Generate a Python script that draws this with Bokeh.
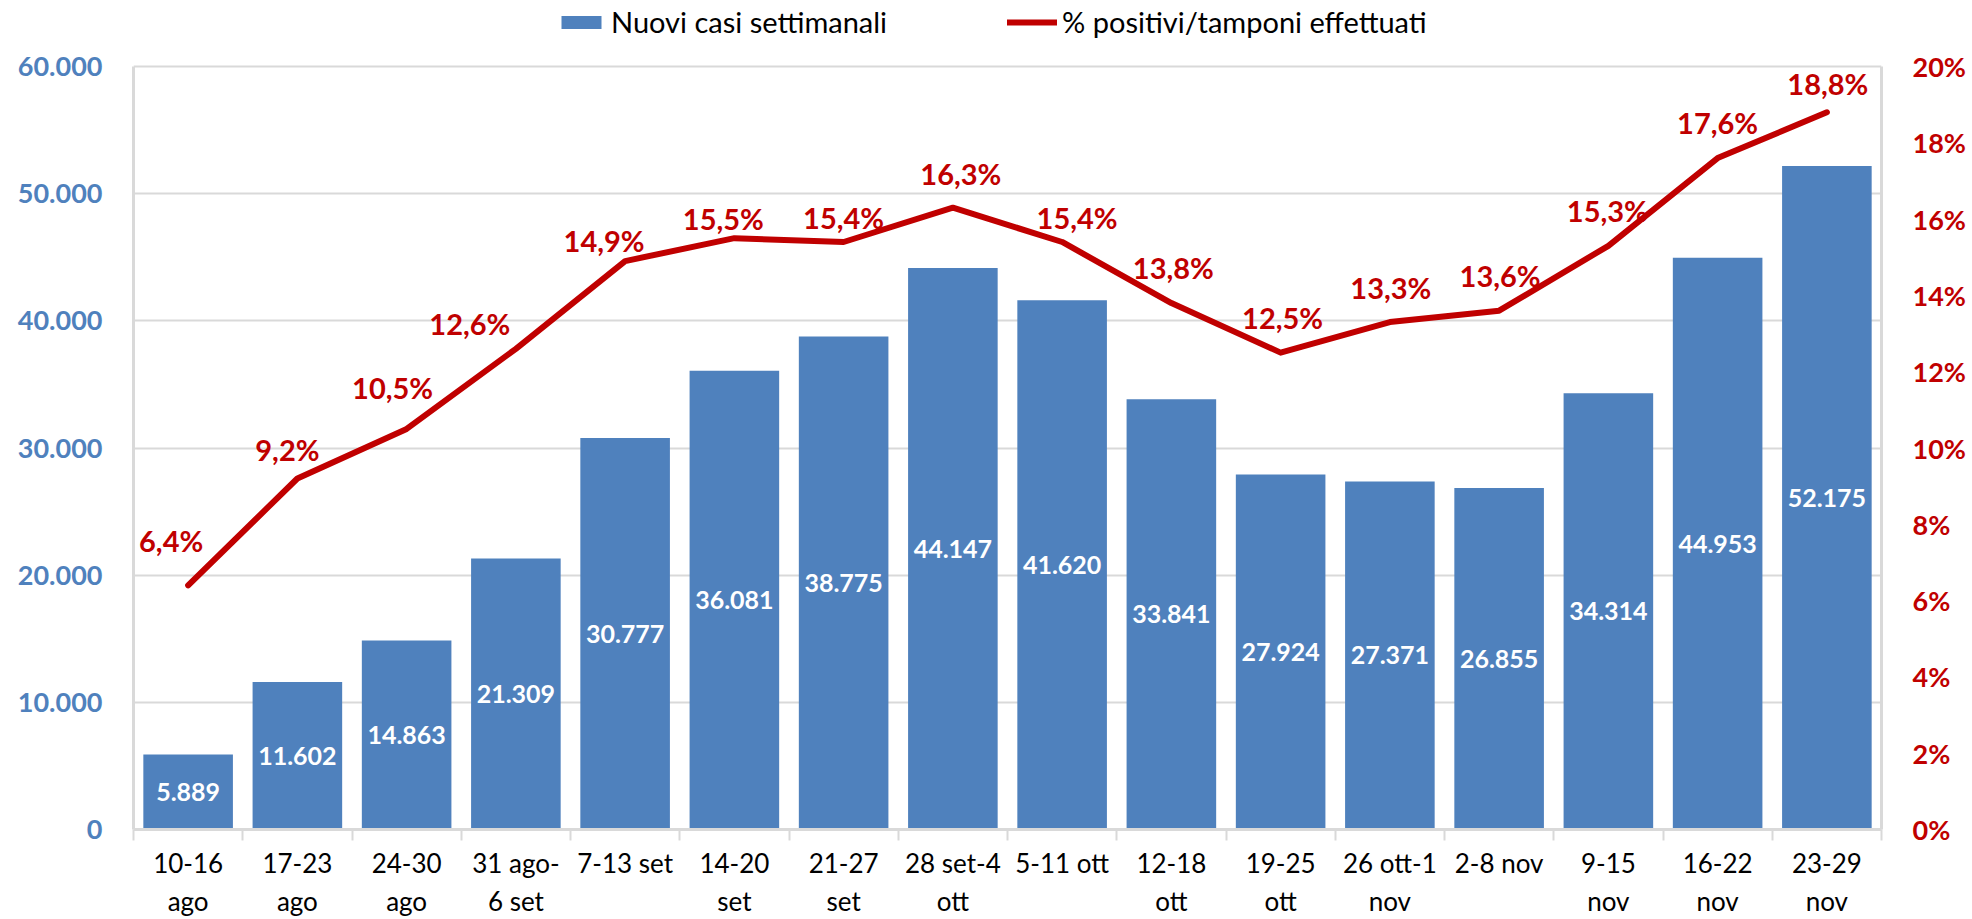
from bokeh.plotting import figure
from bokeh.models import (ColumnDataSource, Range1d, LinearAxis, FixedTicker,
                          Legend, LegendItem)
from bokeh.core.properties import value
from bokeh.embed import file_html
from bokeh.resources import INLINE

# ---- data ----
weeks = ["10-16\nago", "17-23\nago", "24-30\nago", "31 ago-\n6 set", "7-13 set",
         "14-20\nset", "21-27\nset", "28 set-4\nott", "5-11 ott", "12-18\nott",
         "19-25\nott", "26 ott-1\nnov", "2-8 nov", "9-15\nnov", "16-22\nnov",
         "23-29\nnov"]
new_cases = [5889, 11602, 14863, 21309, 30777, 36081, 38775, 44147, 41620,
             33841, 27924, 27371, 26855, 34314, 44953, 52175]
pct_positive = [6.4, 9.2, 10.5, 12.6, 14.9, 15.5, 15.4, 16.3, 15.4, 13.8,
                12.5, 13.3, 13.6, 15.3, 17.6, 18.8]
left_ticks = [0, 10000, 20000, 30000, 40000, 50000, 60000]
right_ticks = [0, 2, 4, 6, 8, 10, 12, 14, 16, 18, 20]

# label placement (screen px offsets of the % labels from their points)
pct_label_dx = [-17, -10, -14, -46, -21, -11, 0, 8, 15, 2, 2, 1, 1, -1, 0, 1]
pct_label_dy = [-45, -29, -41, -25, -21, -20, -24, -34, -24, -36, -35, -35,
                -35, -35, -36, -29]

BLUE = "#4F81BD"
RED = "#C00000"
GRID = "#D9D9D9"
FONT = "Lato"

# layout (px): plot area from y=66 (60.000) to y=829 (0); frame starts at y=0
FRAME_TOP_PAD = 66
PLOT_H = 763
headroom = (PLOT_H + FRAME_TOP_PAD) / PLOT_H
LEFT_MAX = left_ticks[-1]
RIGHT_MAX = right_ticks[-1]

idx = list(range(len(weeks)))
src = ColumnDataSource(dict(
    x=idx,
    cases=new_cases,
    half=[v / 2 for v in new_cases],
    cases_txt=[f"{v:,}".replace(",", ".") for v in new_cases],
    pct=pct_positive,
    pct_txt=[f"{v:.1f}%".replace(".", ",") for v in pct_positive],
    dx=pct_label_dx,
    dy=pct_label_dy,
))

p = figure(width=1972, height=919, output_backend="svg",
           toolbar_location=None,
           x_range=Range1d(-0.5, len(weeks) - 0.5),
           y_range=Range1d(0, LEFT_MAX * headroom))
p.min_border_left = 133
p.min_border_right = 91
p.min_border_top = 0
p.min_border_bottom = 90
p.outline_line_color = None
p.background_fill_color = "white"
p.border_fill_color = "white"

p.extra_y_ranges = {"pct": Range1d(0, RIGHT_MAX * headroom)}

# grid
p.xgrid.grid_line_color = None
p.ygrid.ticker = FixedTicker(ticks=left_ticks)
p.ygrid.grid_line_color = GRID
p.ygrid.grid_line_width = 2

# bars
bars = p.vbar(x="x", top="cases", width=0.82, source=src, fill_color=BLUE,
              line_color=None)
p.text(x="x", y="half", text="cases_txt", source=src, text_color="white",
       text_font=value(FONT), text_font_style="bold", text_font_size="25px",
       text_align="center", text_baseline="middle")

# line
ln = p.line(x="x", y="pct", source=src, y_range_name="pct", line_color=RED,
            line_width=6, line_join="round", line_cap="round")
p.text(x="x", y="pct", text="pct_txt", source=src, y_range_name="pct",
       x_offset="dx", y_offset="dy", text_color=RED, text_font=value(FONT),
       text_font_style="bold", text_font_size="29px", text_align="center",
       text_baseline="middle")

# x axis
xa = p.xaxis[0]
xa.ticker = FixedTicker(ticks=idx, minor_ticks=[i - 0.5 for i in range(len(weeks) + 1)])
xa.major_label_overrides = {i: w for i, w in enumerate(weeks)}
xa.major_tick_line_color = None
xa.major_tick_out = 0
xa.major_tick_in = 0
xa.minor_tick_line_color = GRID
xa.minor_tick_line_width = 2
xa.minor_tick_out = 11
xa.minor_tick_in = 0
xa.axis_line_color = GRID
xa.axis_line_width = 3
xa.major_label_text_font = FONT
xa.major_label_text_font_size = "26px"
xa.major_label_text_color = "black"
xa.major_label_standoff = 6

# left axis
ya = p.yaxis[0]
ya.ticker = FixedTicker(ticks=left_ticks)
ya.bounds = (0, LEFT_MAX)
ya.major_label_overrides = {v: f"{v:,}".replace(",", ".") for v in left_ticks}
ya.major_tick_line_color = None
ya.major_tick_out = 0
ya.major_tick_in = 0
ya.minor_tick_line_color = None
ya.axis_line_color = GRID
ya.axis_line_width = 3
ya.major_label_text_font = FONT
ya.major_label_text_font_style = "bold"
ya.major_label_text_font_size = "27px"
ya.major_label_text_color = BLUE
ya.major_label_standoff = 31

# right axis
ra = LinearAxis(y_range_name="pct", ticker=FixedTicker(ticks=right_ticks),
                bounds=(0, RIGHT_MAX))
ra.major_label_overrides = {v: f"{v}%" for v in right_ticks}
ra.major_tick_line_color = None
ra.major_tick_out = 0
ra.major_tick_in = 0
ra.minor_tick_line_color = None
ra.axis_line_color = GRID
ra.axis_line_width = 3
ra.major_label_text_font = FONT
ra.major_label_text_font_style = "bold"
ra.major_label_text_font_size = "27px"
ra.major_label_text_color = RED
ra.major_label_standoff = 31
p.add_layout(ra, "right")

# legend (inside the head-room above the 60.000 line)
legend = Legend(items=[LegendItem(label="Nuovi casi settimanali", renderers=[bars]),
                       LegendItem(label="% positivi/tamponi effettuati", renderers=[ln])],
                orientation="horizontal", location=(423, 790),
                glyph_width=50, glyph_height=16, label_standoff=5, spacing=120,
                padding=0, margin=0, border_line_color=None,
                background_fill_alpha=0, label_text_font=FONT,
                label_text_font_size="29px", label_text_color="black")
p.add_layout(legend, "center")

open("out.html", "w").write(file_html(p, INLINE))
